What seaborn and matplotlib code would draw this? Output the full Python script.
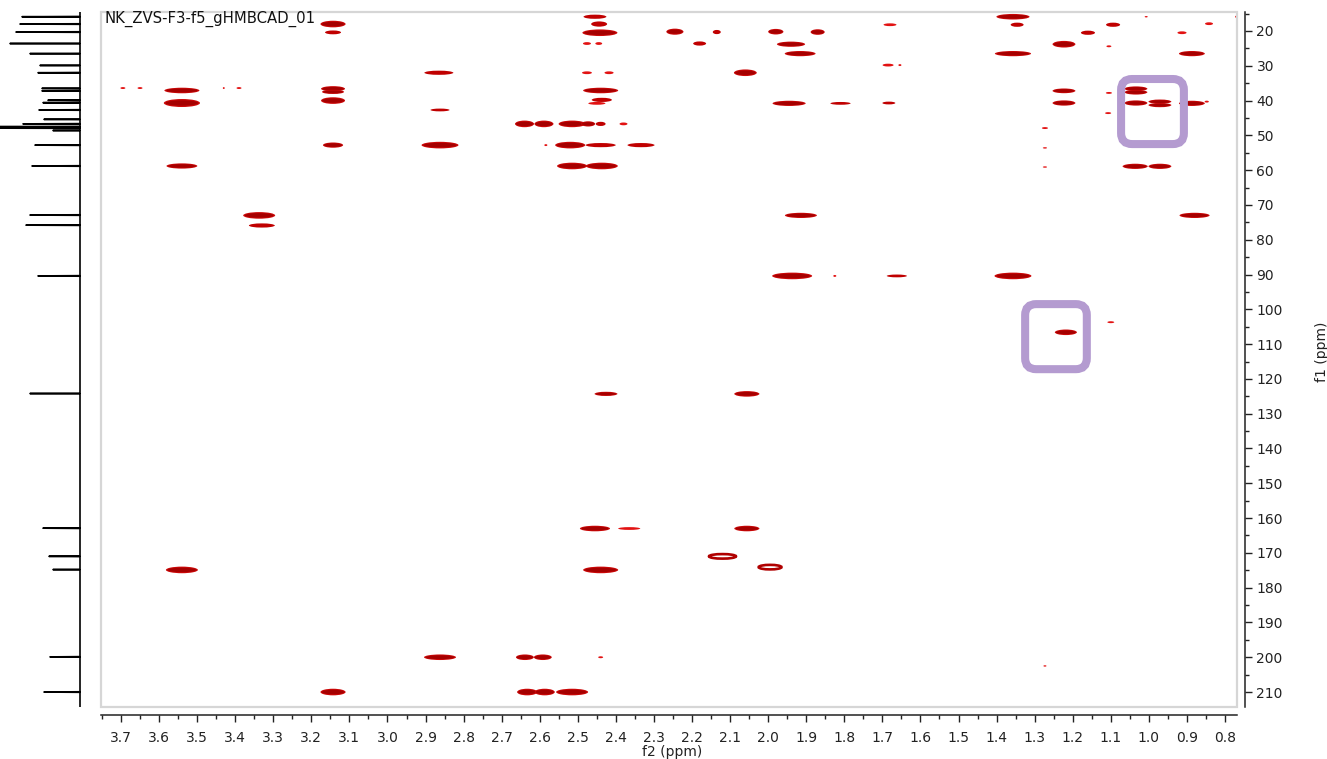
import numpy as np
import pandas as pd
import matplotlib
matplotlib.use("Agg")
import matplotlib.pyplot as plt
from matplotlib.patches import Ellipse, FancyBboxPatch, Rectangle
from matplotlib.transforms import IdentityTransform
from matplotlib.ticker import MultipleLocator, FormatStrFormatter
import seaborn as sns

sns.set_theme(style="white")
plt.rcParams["font.family"] = ["DejaVu Sans"]

TITLE = "NK_ZVS-F3-f5_gHMBCAD_01"

# ---- HMBC cross peaks -------------------------------------------------
# 1H shift (f2, ppm)
cp_h = [3.143, 3.143, 2.455, 2.444, 2.442, 2.245, 2.135, 1.980, 1.870, 1.680,
        2.476, 2.445, 2.180, 1.940, 1.916, 1.685, 1.654, 2.476, 2.418, 2.060,
        2.865, 1.357, 1.346, 1.160, 1.094, 1.007, 0.842, 0.771, 1.223, 1.105,
        0.913, 1.357, 0.887,
        3.695, 3.650, 3.430, 3.390, 3.540, 3.143, 3.143, 2.440, 1.223, 1.105,
        1.034, 1.034,
        3.540, 3.143, 2.437, 2.450, 1.945, 1.810, 1.683, 1.223, 1.034, 0.971,
        0.971, 0.887, 0.848, 2.862, 1.107,
        2.640, 2.589, 2.515, 2.473, 2.440, 2.380, 1.273,
        3.143, 2.862, 2.584, 2.520, 2.440, 2.334, 1.273,
        3.540, 2.515, 2.437, 1.273, 1.036, 0.971,
        3.337, 3.330, 1.914, 0.880,
        1.937, 1.825, 1.662, 1.357,
        1.218, 1.100,
        2.426, 2.056,
        2.455, 2.365, 2.056,
        2.120, 1.995,
        3.540, 2.440,
        2.862, 2.639, 2.592, 2.440, 1.273,
        3.143, 2.633, 2.587, 2.515]
# 13C shift (f1, ppm)
cp_c = [18.0, 20.4, 15.9, 18.0, 20.5, 20.2, 20.3, 20.2, 20.3, 18.2,
        23.6, 23.6, 23.6, 23.8, 26.5, 29.8, 29.8, 32.0, 32.0, 32.0,
        32.0, 15.9, 18.2, 20.5, 18.2, 15.9, 17.9, 15.9, 23.8, 24.4,
        20.5, 26.5, 26.5,
        36.4, 36.4, 36.4, 36.4, 37.1, 36.6, 37.5, 37.1, 37.2, 37.8,
        36.6, 37.6,
        40.7, 40.0, 39.8, 40.8, 40.8, 40.8, 40.7, 40.7, 40.7, 40.3,
        41.3, 40.8, 40.3, 42.7, 43.6,
        46.7, 46.7, 46.7, 46.7, 46.7, 46.7, 47.9,
        52.8, 52.8, 52.8, 52.8, 52.8, 52.8, 53.6,
        58.8, 58.8, 58.8, 59.1, 58.9, 58.9,
        73.0, 75.9, 73.0, 73.0,
        90.4, 90.4, 90.4, 90.4,
        106.6, 103.7,
        124.3, 124.3,
        163.0, 163.0, 163.0,
        171.0, 174.1,
        174.9, 174.9,
        200.0, 200.0, 200.0, 200.0, 202.5,
        210.0, 210.0, 210.0, 210.0]
# peak extent along f2 (ppm)
cp_wh = [0.066, 0.042, 0.060, 0.042, 0.092, 0.045, 0.021, 0.040, 0.037, 0.034,
         0.021, 0.018, 0.034, 0.074, 0.081, 0.029, 0.008, 0.026, 0.024, 0.060,
         0.076, 0.087, 0.034, 0.037, 0.037, 0.008, 0.021, 0.005, 0.060, 0.013,
         0.024, 0.095, 0.068,
         0.013, 0.013, 0.005, 0.013, 0.092, 0.063, 0.058, 0.092, 0.060, 0.016,
         0.060, 0.060,
         0.095, 0.063, 0.053, 0.045, 0.087, 0.053, 0.034, 0.060, 0.060, 0.060,
         0.060, 0.068, 0.011, 0.050, 0.016,
         0.050, 0.050, 0.071, 0.037, 0.026, 0.021, 0.016,
         0.053, 0.097, 0.008, 0.079, 0.079, 0.071, 0.011,
         0.081, 0.079, 0.084, 0.011, 0.066, 0.060,
         0.084, 0.068, 0.084, 0.079,
         0.105, 0.008, 0.053, 0.097,
         0.058, 0.018,
         0.060, 0.066,
         0.079, 0.058, 0.066,
         0.071, 0.060,
         0.084, 0.092,
         0.084, 0.047, 0.047, 0.013, 0.008,
         0.066, 0.053, 0.053, 0.084]
# peak extent along f1 (ppm)
cp_wc = [1.9, 1.1, 1.2, 1.5, 1.9, 1.75, 1.2, 1.6, 1.6, 0.8,
         0.8, 0.8, 1.2, 1.5, 1.5, 0.8, 0.55, 0.8, 0.8, 1.9,
         1.2, 1.6, 1.2, 1.2, 1.2, 0.4, 0.8, 0.55, 1.9, 0.55,
         0.8, 1.5, 1.5,
         0.55, 0.55, 0.55, 0.55, 1.6, 1.5, 1.2, 1.6, 1.35, 0.55,
         1.35, 1.35,
         2.3, 1.9, 1.2, 0.8, 1.5, 0.8, 0.8, 1.5, 1.5, 1.2,
         1.2, 1.5, 0.55, 0.8, 0.55,
         1.9, 1.9, 1.9, 1.5, 1.2, 0.8, 0.55,
         1.5, 1.9, 0.55, 1.9, 1.2, 1.2, 0.4,
         1.5, 1.9, 1.9, 0.4, 1.5, 1.5,
         1.9, 1.2, 1.5, 1.5,
         1.9, 0.55, 0.8, 1.9,
         1.6, 0.55,
         1.2, 1.6,
         1.6, 0.8, 1.6,
         1.3, 1.3,
         1.9, 1.9,
         1.6, 1.6, 1.6, 0.55, 0.4,
         1.9, 1.9, 1.9, 1.9]
# 3 strong, 2 medium, 1 weak, 0 dispersive (ring-shaped) contour
cp_level = [3, 2, 2, 2, 3, 3, 2, 3, 3, 1,
            1, 1, 2, 3, 3, 1, 1, 1, 1, 3,
            2, 3, 2, 2, 2, 1, 1, 1, 3, 1,
            1, 3, 3,
            1, 1, 1, 1, 3, 3, 3, 3, 3, 1,
            3, 3,
            3, 3, 2, 1, 3, 2, 2, 3, 3, 3,
            3, 3, 1, 2, 1,
            3, 3, 3, 3, 2, 1, 1,
            3, 3, 1, 3, 2, 2, 1,
            3, 3, 3, 1, 3, 3,
            3, 2, 3, 3,
            3, 1, 2, 3,
            3, 1,
            3, 3,
            3, 1, 3,
            0, 0,
            3, 3,
            3, 3, 3, 1, 1,
            3, 3, 3, 3]

# ---- 13C reference spectrum (f1 projection) ---------------------------
c13_ppm = [15.9, 18.0, 20.3, 23.6, 26.5, 29.9, 32.0, 36.5, 37.2, 39.9,
           40.6, 42.7, 45.4, 46.7, 47.5, 47.9, 48.6, 52.8, 58.8, 72.9,
           75.8, 90.4, 124.2, 162.9, 171.0, 174.8, 199.9, 210.0]
c13_int = [58, 60, 64, 70, 50, 40, 42, 38, 38, 32,
           37, 41, 36, 57, 120, 120, 27, 45, 48, 50,
           54, 42, 50, 37, 31, 27, 30, 36]

# highlighted correlation regions (f2 range, f1 range)
box_h = [(1.073, 0.908), (1.325, 1.163)]
box_c = [(33.8, 52.5), (98.5, 117.2)]

F2_LIM = (3.7525, 0.7685)
F1_LIM = (214.3, 14.54)

W, H = 1327, 759
fig = plt.figure(figsize=(W / 100, H / 100), dpi=100)
fig.patch.set_facecolor("white")

ax = fig.add_axes([101 / W, 1 - 707 / H, 1136 / W, 695 / H])
ax.set_facecolor("white")
ax.set_xlim(*F2_LIM)
ax.set_ylim(*F1_LIM)

# cross peaks
for h, c, wh, wc, lev in zip(cp_h, cp_c, cp_wh, cp_wc, cp_level):
    if lev == 0:
        ax.add_patch(Ellipse((h, c), wh, wc, facecolor="none",
                             edgecolor="#b00000", lw=1.9))
    elif lev == 3:
        ax.add_patch(Ellipse((h, c), wh, wc, facecolor="#cc0808",
                             edgecolor="none"))
        ax.add_patch(Ellipse((h, c), wh * 0.9, wc * 0.66,
                             facecolor="#a50000", edgecolor="none"))
    elif lev == 2:
        ax.add_patch(Ellipse((h, c), wh, wc, facecolor="#c00000",
                             edgecolor="none"))
    else:
        ax.add_patch(Ellipse((h, c), wh, wc, facecolor="#e21212",
                             edgecolor="none"))

# light frame around the spectrum area
ax.add_patch(Rectangle((0, 0), 1, 1, transform=ax.transAxes, fill=False,
                       edgecolor="#d6d6d6", lw=1.6, clip_on=False, zorder=5))

# highlighted regions, drawn with pixel-true rounded corners
for (h0, h1), (c0, c1) in zip(box_h, box_c):
    p0 = ax.transData.transform((h0, c1))
    p1 = ax.transData.transform((h1, c0))
    ax.add_patch(FancyBboxPatch((p0[0], p0[1]), p1[0] - p0[0], p1[1] - p0[1],
                                boxstyle="round,pad=0,rounding_size=11",
                                transform=IdentityTransform(),
                                facecolor="none", edgecolor="#b49bd0",
                                lw=5.8, zorder=4))

ax.set_xlim(*F2_LIM)
ax.set_ylim(*F1_LIM)

# axes: bottom (f2) and right (f1), offset from the frame
for side in ("top", "left"):
    ax.spines[side].set_visible(False)
for side in ("bottom", "right"):
    ax.spines[side].set_visible(True)
    ax.spines[side].set_color("#222222")
    ax.spines[side].set_linewidth(1.1)
    ax.spines[side].set_position(("outward", 6))

ax.xaxis.set_major_locator(MultipleLocator(0.1))
ax.xaxis.set_minor_locator(MultipleLocator(0.05))
ax.xaxis.set_major_formatter(FormatStrFormatter("%.1f"))
ax.yaxis.tick_right()
ax.yaxis.set_major_locator(MultipleLocator(10))
ax.yaxis.set_minor_locator(MultipleLocator(5))
ax.yaxis.set_major_formatter(FormatStrFormatter("%d"))
ax.tick_params(axis="x", which="major", direction="out", length=5, width=1,
               color="#222222", labelsize=10, pad=6, labelcolor="#222222",
               bottom=True, top=False)
ax.tick_params(axis="x", which="minor", direction="out", length=3, width=1,
               color="#222222", bottom=True, top=False)
ax.tick_params(axis="y", which="major", direction="out", length=5, width=1,
               color="#222222", labelsize=10, pad=3, labelcolor="#222222",
               right=True, left=False, labelright=True, labelleft=False)
ax.tick_params(axis="y", which="minor", direction="out", length=3, width=1,
               color="#222222", right=True, left=False)
ax.grid(False)

fig.text(672 / W, 1 - 752 / H, "f2 (ppm)", ha="center", va="center",
         fontsize=10, color="#222222")
fig.text(1322 / W, 1 - 352 / H, "f1 (ppm)", rotation=90, ha="center",
         va="center", fontsize=10, color="#222222")
fig.text(105 / W, 1 - 19 / H, TITLE, ha="left", va="center",
         fontsize=10.7, color="#111111")

# 13C projection on the left, sharing the f1 scale
axp = fig.add_axes([0, 1 - 707 / H, 82 / W, 695 / H])
axp.set_axis_off()
pts_x, pts_y = [0.0], [F1_LIM[1]]
for ppm, amp in sorted(zip(c13_ppm, c13_int)):
    pts_x += [0.0, amp, 0.0]
    pts_y += [ppm - 0.08, ppm, ppm + 0.08]
pts_x.append(0.0)
pts_y.append(F1_LIM[0])
trace = pd.DataFrame({"intensity": pts_x, "shift": pts_y})
sns.lineplot(data=trace, x="intensity", y="shift", sort=False, estimator=None,
             orient="y", color="black", lw=1.2, ax=axp)
axp.set_xlim(80, -2)
axp.set_ylim(*F1_LIM)

fig.savefig("out.png", dpi=100, facecolor="white")
